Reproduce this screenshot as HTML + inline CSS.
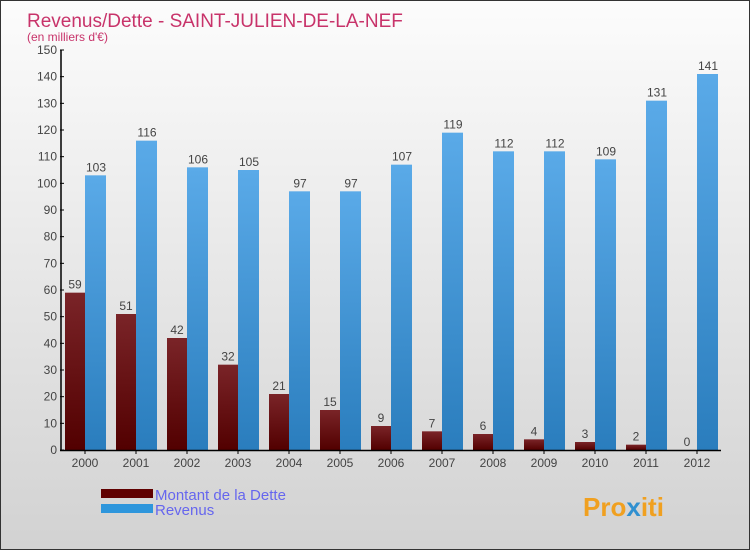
<!DOCTYPE html>
<html><head><meta charset="utf-8"><style>
body{margin:0;width:750px;height:550px;overflow:hidden;font-family:"Liberation Sans",sans-serif}
#c{position:absolute;left:0;top:0;width:748px;height:548px;border:1px solid #333;background:linear-gradient(#fcfcfc,#d2d2d2)}
</style></head><body>
<div id="c">
<svg id="s" width="748" height="548">
<defs>
<linearGradient id="gd" x1="0" y1="0" x2="0" y2="1"><stop offset="0" stop-color="#7a2428"/><stop offset="1" stop-color="#520000"/></linearGradient>
<linearGradient id="gr" x1="0" y1="0" x2="0" y2="1"><stop offset="0" stop-color="#5aaae8"/><stop offset="1" stop-color="#2a7dbd"/></linearGradient>
</defs>
<text x="26" y="26" font-size="19" fill="#c8336a">Revenus/Dette - SAINT-JULIEN-DE-LA-NEF</text>
<text x="26" y="40" font-size="12" fill="#c8336a">(en milliers d'€)</text>
<g id="g"></g>
<rect x="100" y="488" width="52" height="9" fill="#600000"/>
<rect x="100" y="503" width="52" height="9" fill="#2e96dc"/>
<text x="154" y="499" font-size="15" fill="#6666ee">Montant de la Dette</text>
<text x="154" y="514" font-size="15" fill="#6666ee">Revenus</text>
<text x="582" y="515" font-size="26" font-weight="bold" fill="#f0a020">Pro<tspan fill="#3090d0">x</tspan>iti</text>
</svg></div>
<script>
const years=["2000","2001","2002","2003","2004","2005","2006","2007","2008","2009","2010","2011","2012"];
const dette=[59,51,42,32,21,15,9,7,6,4,3,2,0];
const revenus=[103,116,106,105,97,97,107,119,112,112,109,131,141];
const ticks=[0,10,20,30,40,50,60,70,80,90,100,110,120,130,140,150];
const g=document.getElementById('g'),NS="http://www.w3.org/2000/svg";
const y=v=>449-v*400/150, x0=i=>64+51*i;
function mk(t,a){const e=document.createElementNS(NS,t);for(const k in a)e.setAttribute(k,a[k]);g.appendChild(e);return e;}
ticks.forEach(t=>{const l=mk('line',{x1:59,x2:63,y1:y(t),y2:y(t),stroke:'#000'});

const tx=mk('text',{x:56,y:y(t)+4,'font-size':12,fill:'#444','text-anchor':'end'});tx.textContent=t;
});
years.forEach((yr,i)=>{
const b1=mk('rect',{x:x0(i),y:y(dette[i]),width:20,height:449-y(dette[i]),fill:'url(#gd)'});

const b2=mk('rect',{x:x0(i)+20,y:y(revenus[i]),width:21,height:449-y(revenus[i]),fill:'url(#gr)'});

const t1=mk('text',{x:x0(i)+10,y:y(dette[i])-4,'font-size':12,fill:'#444','text-anchor':'middle'});t1.textContent=dette[i];

const t2=mk('text',{x:x0(i)+31,y:y(revenus[i])-4,'font-size':12,fill:'#444','text-anchor':'middle'});t2.textContent=revenus[i];

const tk=mk('line',{x1:x0(i)+20,x2:x0(i)+20,y1:449,y2:453,stroke:'#000'});

const xl=mk('text',{x:x0(i)+20,y:466,'font-size':12,fill:'#444','text-anchor':'middle'});xl.textContent=yr;

});
const ya=mk('line',{x1:60,x2:60,y1:y(150),y2:450,stroke:'#000','stroke-width':1.5});

const xa=mk('line',{x1:59,x2:720,y1:449.5,y2:449.5,stroke:'#000','stroke-width':1.5});

</script>
</body></html>
